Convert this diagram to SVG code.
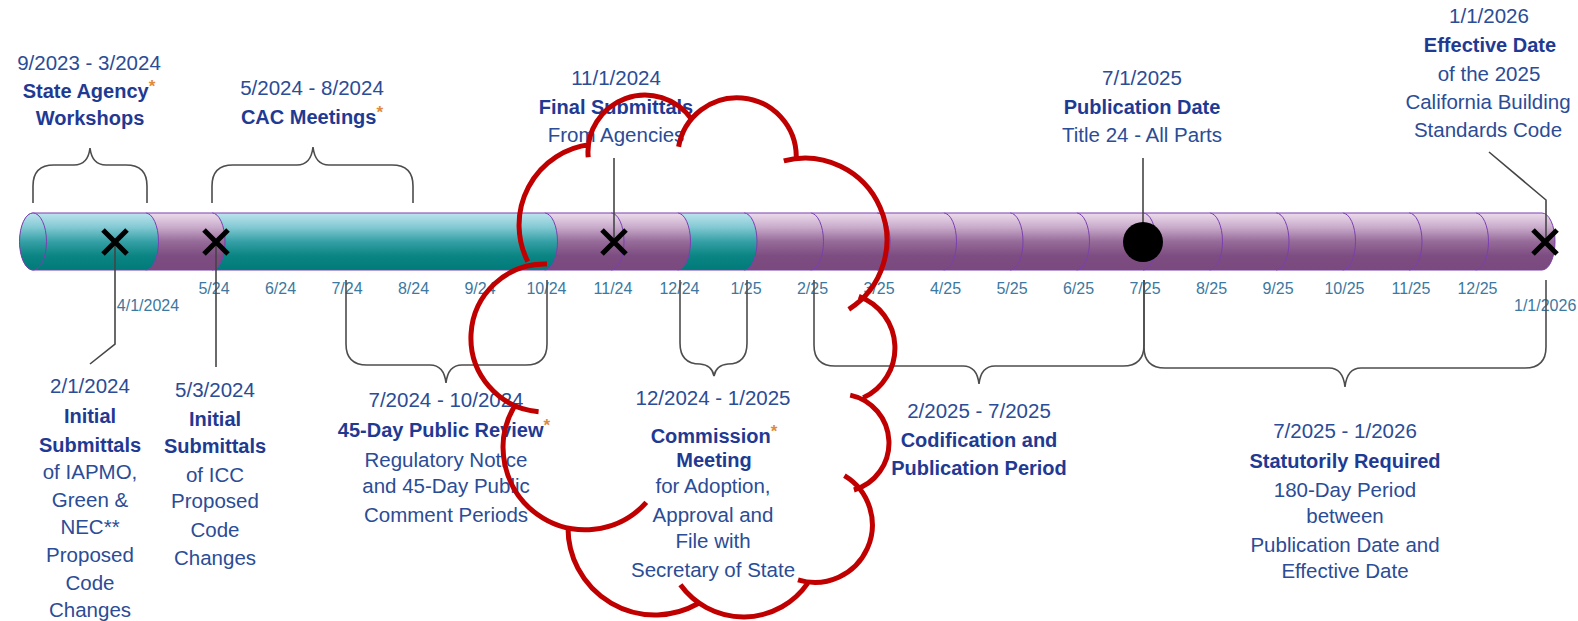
<svg xmlns="http://www.w3.org/2000/svg" width="1578" height="621" viewBox="0 0 1578 621">
<defs>
<linearGradient id="gT" x1="0" y1="0" x2="0" y2="1">
<stop offset="0" stop-color="#bde4ee"/>
<stop offset="0.25" stop-color="#82c9d3"/>
<stop offset="0.5" stop-color="#35a0a6"/>
<stop offset="0.75" stop-color="#0b8583"/>
<stop offset="1" stop-color="#007b79"/>
</linearGradient>
<linearGradient id="gP" x1="0" y1="0" x2="0" y2="1">
<stop offset="0" stop-color="#ecdcec"/>
<stop offset="0.25" stop-color="#c9abcb"/>
<stop offset="0.5" stop-color="#966b99"/>
<stop offset="0.75" stop-color="#7d4d81"/>
<stop offset="1" stop-color="#7a4a7e"/>
</linearGradient>
<path id="xmark" d="M-12,-12 L12,12 M12,-12 L-12,12" stroke="#000" stroke-width="5" fill="none"/>
<style>
.t{fill:url(#gT);stroke:#7a3fb0;stroke-width:1}
.p{fill:url(#gP);stroke:#7a3fb0;stroke-width:1}
.cn{fill:none;stroke:#454545;stroke-width:1.6}
.br{fill:none;stroke:#4d4d4d;stroke-width:1.6}
.cloud{fill:none;stroke:#c00000;stroke-width:5}
text{font-family:"Liberation Sans",Arial,sans-serif;text-anchor:middle}
.r{font-size:20.5px;fill:#2b4c96}
.b{font-size:20px;font-weight:bold;fill:#1f3a93}
.m{font-size:16px;fill:#3c78a0}
.ast{fill:#e08a3c;font-size:17px;font-weight:bold}
</style>
</defs>
<rect width="1578" height="621" fill="#fff"/>

<g id="timeline">
<path class="p" d="M1475.5,213 H1542 A13,28.5 0 0 1 1542,270 H1475.5 Z"/>
<path class="p" d="M1409,213 H1475.5 A13,28.5 0 0 1 1475.5,270 H1409 Z"/>
<path class="p" d="M1342.5,213 H1409 A13,28.5 0 0 1 1409,270 H1342.5 Z"/>
<path class="p" d="M1276,213 H1342.5 A13,28.5 0 0 1 1342.5,270 H1276 Z"/>
<path class="p" d="M1209.5,213 H1276 A13,28.5 0 0 1 1276,270 H1209.5 Z"/>
<path class="p" d="M1143,213 H1209.5 A13,28.5 0 0 1 1209.5,270 H1143 Z"/>
<path class="p" d="M1076.5,213 H1143 A13,28.5 0 0 1 1143,270 H1076.5 Z"/>
<path class="p" d="M1010,213 H1076.5 A13,28.5 0 0 1 1076.5,270 H1010 Z"/>
<path class="p" d="M943.5,213 H1010 A13,28.5 0 0 1 1010,270 H943.5 Z"/>
<path class="p" d="M877,213 H943.5 A13,28.5 0 0 1 943.5,270 H877 Z"/>
<path class="p" d="M810.5,213 H877 A13,28.5 0 0 1 877,270 H810.5 Z"/>
<path class="p" d="M744,213 H810.5 A13,28.5 0 0 1 810.5,270 H744 Z"/>
<path class="t" d="M677.5,213 H744 A13,28.5 0 0 1 744,270 H677.5 Z"/>
<path class="p" d="M611,213 H677.5 A13,28.5 0 0 1 677.5,270 H611 Z"/>
<path class="p" d="M544.5,213 H611 A13,28.5 0 0 1 611,270 H544.5 Z"/>
<path class="t" d="M212,213 H544.5 A13,28.5 0 0 1 544.5,270 H212 Z"/>
<path class="p" d="M145.5,213 H212 A13,28.5 0 0 1 212,270 H145.5 Z"/>
<path class="t" d="M33,213 H145.5 A13,28.5 0 0 1 145.5,270 H33 A13,28.5 0 0 1 33,213 Z"/>
<ellipse class="t" cx="33" cy="241.5" rx="13.5" ry="28.5"/>
</g>

<g id="month-labels">
<text class="m" x="214" y="294">5/24</text>
<text class="m" x="280.5" y="294">6/24</text>
<text class="m" x="347" y="294">7/24</text>
<text class="m" x="413.5" y="294">8/24</text>
<text class="m" x="480" y="294">9/24</text>
<text class="m" x="546.5" y="294">10/24</text>
<text class="m" x="613" y="294">11/24</text>
<text class="m" x="679.5" y="294">12/24</text>
<text class="m" x="746" y="294">1/25</text>
<text class="m" x="812.5" y="294">2/25</text>
<text class="m" x="879" y="294">3/25</text>
<text class="m" x="945.5" y="294">4/25</text>
<text class="m" x="1012" y="294">5/25</text>
<text class="m" x="1078.5" y="294">6/25</text>
<text class="m" x="1145" y="294">7/25</text>
<text class="m" x="1211.5" y="294">8/25</text>
<text class="m" x="1278" y="294">9/25</text>
<text class="m" x="1344.5" y="294">10/25</text>
<text class="m" x="1411" y="294">11/25</text>
<text class="m" x="1477.5" y="294">12/25</text>
<text class="m" x="148" y="311">4/1/2024</text>
<text class="m" x="1514" y="311" style="text-anchor:start">1/1/2026</text>
</g>

<g id="connectors">
<path class="cn" d="M115,242 V344 L90,364"/>
<path class="cn" d="M216,242 V367"/>
<path class="cn" d="M614,158 V242"/>
<path class="cn" d="M1143,158 V242"/>
<path class="cn" d="M1489,152 L1546,200 V242"/>
<path class="br" d="M33,203 V186 Q33,165 54,165 H74 Q88,165 90,148 Q92,165 106,165 H126 Q147,165 147,186 V203"/>
<path class="br" d="M212,203 V186 Q212,165 233,165 H297 Q311,165 313,147 Q315,165 329,165 H392 Q413,165 413,186 V203"/>
<path class="br" d="M346,280 V344 Q346,365 367,365 H430 Q444,365 446,383 Q448,365 462,365 H526 Q547,365 547,344 V280"/>
<path class="br" d="M680,280 V343 Q680,364 700,364 Q712,365 714,376 Q716,365 728,364 Q747,364 747,343 V280"/>
<path class="br" d="M814,280 V345 Q814,366 835,366 H963 Q977,366 979,384 Q981,366 995,366 H1123 Q1144,366 1144,345 V280"/>
<path class="br" d="M1144,280 V347 Q1144,368 1165,368 H1329 Q1343,368 1345,387 Q1347,368 1361,368 H1525 Q1546,368 1546,347 V280"/>
</g>

<g id="markers">
<use href="#xmark" x="115" y="242"/>
<use href="#xmark" x="216" y="242"/>
<use href="#xmark" x="614" y="242"/>
<use href="#xmark" x="1545" y="242"/>
<circle cx="1143" cy="242" r="20" fill="#000"/>
</g>

<g id="n-workshops">
<text class="r" x="89" y="70">9/2023 - 3/2024</text>
<text class="b" x="89" y="98">State Agency<tspan class="ast" dy="-6">*</tspan></text>
<text class="b" x="90" y="125">Workshops</text>
</g>
<g id="n-cac">
<text class="r" x="312" y="95">5/2024 - 8/2024</text>
<text class="b" x="312" y="124">CAC Meetings<tspan class="ast" dy="-6">*</tspan></text>
</g>
<g id="n-final">
<text class="r" x="616" y="85">11/1/2024</text>
<text class="b" x="616" y="114">Final Submittals</text>
<text class="r" x="616" y="142">From Agencies</text>
</g>
<g id="n-publication">
<text class="r" x="1142" y="85">7/1/2025</text>
<text class="b" x="1142" y="114">Publication Date</text>
<text class="r" x="1142" y="142">Title 24 - All Parts</text>
</g>
<g id="n-effective">
<text class="r" x="1489" y="23">1/1/2026</text>
<text class="b" x="1490" y="52">Effective Date</text>
<text class="r" x="1489" y="81">of the 2025</text>
<text class="r" x="1488" y="109">California Building</text>
<text class="r" x="1488" y="137">Standards Code</text>
</g>
<g id="n-initial-iapmo">
<text class="r" x="90" y="393">2/1/2024</text>
<text class="b" x="90" y="423">Initial</text>
<text class="b" x="90" y="452">Submittals</text>
<text class="r" x="90" y="479">of IAPMO,</text>
<text class="r" x="90" y="507">Green &amp;</text>
<text class="r" x="90" y="534">NEC**</text>
<text class="r" x="90" y="562">Proposed</text>
<text class="r" x="90" y="590">Code</text>
<text class="r" x="90" y="617">Changes</text>
</g>
<g id="n-initial-icc">
<text class="r" x="215" y="397">5/3/2024</text>
<text class="b" x="215" y="426">Initial</text>
<text class="b" x="215" y="453">Submittals</text>
<text class="r" x="215" y="482">of ICC</text>
<text class="r" x="215" y="508">Proposed</text>
<text class="r" x="215" y="537">Code</text>
<text class="r" x="215" y="565">Changes</text>
</g>
<g id="n-public-review">
<text class="r" x="446" y="407">7/2024 - 10/2024</text>
<text class="b" x="444" y="437">45-Day Public Review<tspan class="ast" dy="-6">*</tspan></text>
<text class="r" x="446" y="467">Regulatory Notice</text>
<text class="r" x="446" y="493">and 45-Day Public</text>
<text class="r" x="446" y="522">Comment Periods</text>
</g>
<g id="n-commission">
<text class="r" x="713" y="405">12/2024 - 1/2025</text>
<text class="b" x="714" y="443">Commission<tspan class="ast" dy="-6">*</tspan></text>
<text class="b" x="714" y="467">Meeting</text>
<text class="r" x="713" y="493">for Adoption,</text>
<text class="r" x="713" y="522">Approval and</text>
<text class="r" x="713" y="548">File with</text>
<text class="r" x="713" y="577">Secretary of State</text>
</g>
<g id="n-codification">
<text class="r" x="979" y="418">2/2025 - 7/2025</text>
<text class="b" x="979" y="447">Codification and</text>
<text class="b" x="979" y="475">Publication Period</text>
</g>
<g id="n-statutory">
<text class="r" x="1345" y="438">7/2025 - 1/2026</text>
<text class="b" x="1345" y="468">Statutorily Required</text>
<text class="r" x="1345" y="497">180-Day Period</text>
<text class="r" x="1345" y="523">between</text>
<text class="r" x="1345" y="552">Publication Date and</text>
<text class="r" x="1345" y="578">Effective Date</text>
</g>

<g id="cloud">
<path class="cloud" d="M527.8,261.6 A81,81 0 0 1 590.1,144.6 M588.2,157.2 A57,57 0 0 1 691.5,119.1 M678.6,146.7 A59.3,59.3 0 0 1 796.3,157 M783.8,160.8 A82,82 0 0 1 848.8,309.3 M858.8,296.3 A55,55 0 0 1 863.2,397.8 M850.2,395.1 A49,49 0 0 1 853.9,490 M844.4,475.6 A57.5,57.5 0 0 1 798,579.9 M807.6,583.4 A78,78 0 0 1 680.4,584.8 M697.7,603.8 A87,87 0 0 1 568,528 M646.3,502.4 A82,82 0 0 1 514,407 M547,264 A74,74 0 0 0 538.6,411.7"/>
</g>
</svg>
